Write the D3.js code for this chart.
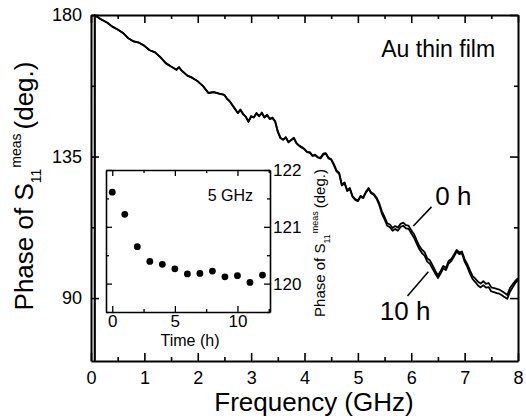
<!DOCTYPE html>
<html>
<head>
<meta charset="utf-8">
<script src="https://cdn.jsdelivr.net/npm/d3@7"></script>
<style>
  body { margin: 0; background: #fff; }
  text { font-family: "Liberation Sans", Arial, sans-serif; fill: #000; }
</style>
</head>
<body>
<script>
// main curve: frequency (GHz) vs phase (deg.) at 0 h and 10 h
const freq = [0.07, 0.07, 0.1, 0.2, 0.3, 0.4, 0.5, 0.6, 0.7, 0.8, 0.9, 1.0, 1.1, 1.2, 1.3, 1.4, 1.5, 1.6, 1.65, 1.7, 1.8, 1.9, 2.0, 2.1, 2.2, 2.3, 2.4, 2.5,
  2.55, 2.6, 2.65, 2.7, 2.75, 2.8, 2.85, 2.9, 2.95, 3.0,
  3.05, 3.1, 3.15, 3.2, 3.25, 3.3, 3.35, 3.4, 3.45, 3.5,
  3.55, 3.6, 3.65, 3.7, 3.75, 3.8, 3.85, 3.9, 3.95, 4.0,
  4.05, 4.1, 4.15, 4.2, 4.25, 4.3, 4.35, 4.4, 4.45, 4.5,
  4.55, 4.6, 4.65, 4.7, 4.75, 4.8, 4.85, 4.9, 4.95, 5.0,
  5.05, 5.1, 5.15, 5.2, 5.25, 5.3, 5.35, 5.4, 5.45, 5.5,
  5.55, 5.6, 5.65, 5.7, 5.75, 5.8, 5.85, 5.9, 5.95, 6.0,
  6.05, 6.1, 6.15, 6.2, 6.25, 6.3, 6.35, 6.4, 6.45, 6.5,
  6.55, 6.6, 6.65, 6.7, 6.75, 6.8, 6.85, 6.9, 6.95, 7.0,
  7.05, 7.1, 7.15, 7.2, 7.25, 7.3, 7.35, 7.4, 7.45, 7.5,
  7.55, 7.6, 7.65, 7.7, 7.75, 7.8, 7.85, 7.9, 7.95, 8.0]

const phase0h = [70, 180, 179.6, 178.5, 177.6, 176.3, 175.4, 174.3, 172.6, 171.6, 171.2, 170.2, 168.8, 168.1, 166.6, 164.7, 163.6, 162.6, 163.4, 162.3, 160.8, 160.0, 158.9, 157.4, 155.2, 155.5, 155.0, 154.6,
  153.4, 152.5, 151.4, 150.2, 148.8, 150.0, 148.6, 147.6, 146.0, 147.9,
  147.4, 148.9, 147.8, 149.0, 147.5, 148.3, 146.9, 147.4, 146.3, 143.0,
  141.0, 140.3, 141.2, 139.6, 140.2, 141.0, 139.3, 138.5, 138.0, 137.4,
  136.5, 136.4, 135.3, 135.6, 134.8, 134.6, 135.9, 136.1, 134.6, 134.2,
  132.6, 130.6, 129.8, 126.0, 126.8, 124.3, 125.0, 122.4, 121.5, 121.0,
  122.5, 122.0, 123.8, 125.0, 123.6, 123.1, 122.0, 120.2, 117.6, 115.8,
  113.8, 113.4, 112.3, 112.9, 112.4, 113.6, 114.0, 113.2, 113.0, 111.6,
  110.4, 108.4, 106.6, 105.4, 104.6, 102.6, 102.0, 100.4, 98.7, 97.2,
  98.6, 100.2, 99.6, 101.8, 102.4, 103.8, 105.3, 104.5, 104.8, 102.4,
  100.8, 98.8, 97.0, 96.2, 95.2, 94.6, 95.4, 94.5, 94.8, 93.4,
  93.2, 92.9, 92.7, 92.2, 91.6, 91.0, 93.2, 94.4, 95.5, 96.3]

const phase10h = [70, 180, 179.6, 178.5, 177.6, 176.3, 175.4, 174.3, 172.6, 171.6, 171.2, 170.2, 168.8, 168.1, 166.6, 164.7, 163.6, 162.6, 163.4, 162.3, 160.8, 160.0, 158.9, 157.4, 155.2, 155.5, 155.0, 154.6,
  153.3, 152.6, 151.2, 150.0, 148.9, 149.7, 148.4, 147.7, 146.2, 147.6,
  147.5, 148.6, 147.9, 148.7, 147.4, 148.1, 147.0, 147.2, 146.1, 142.8,
  140.8, 140.4, 141.0, 139.5, 140.3, 140.7, 139.2, 138.4, 137.8, 137.3,
  136.4, 136.2, 135.2, 135.4, 134.7, 134.4, 135.6, 135.9, 134.4, 134.0,
  132.3, 130.3, 129.5, 125.8, 126.5, 124.0, 124.7, 122.2, 121.2, 120.8,
  122.2, 121.8, 123.5, 124.7, 123.3, 122.8, 121.6, 119.6, 116.8, 115.0,
  113.0, 112.5, 111.4, 112.0, 111.4, 112.6, 113.0, 112.2, 112.0, 110.6,
  109.3, 107.4, 105.6, 104.3, 103.5, 101.6, 100.9, 99.3, 97.8, 96.4,
  97.8, 99.4, 98.9, 101.0, 101.8, 103.2, 104.8, 104.0, 104.2, 101.6,
  99.9, 97.8, 96.0, 95.1, 94.0, 93.4, 94.1, 93.3, 93.5, 92.1,
  91.9, 91.6, 91.4, 90.9, 90.3, 89.8, 92.0, 93.4, 94.8, 95.8]

// inset: phase at 5 GHz vs time
const timeH = [0, 1, 2, 3, 4, 5, 6, 7, 8, 9, 10, 11, 12]
const phase5GHz = [121.61, 121.22, 120.65, 120.39, 120.34, 120.26, 120.17, 120.18, 120.22, 120.12, 120.14, 120.02, 120.15]

const mainYTicks = [90, 135, 180]
const insetYTicks = [120, 121, 122]
const insetXTicks = [0, 5, 10]

const w = 526
const h = 420

const svg = d3.select('body')
  .append('svg')
  .attr('width', w)
  .attr('height', h)

const x = d3.scaleLinear().domain([0, 8]).range([91, 518])
const y = d3.scaleLinear().domain([70, 180]).range([361, 15])

const fmtInt = d => Number.isInteger(d) ? d : ''

// frame + ticks (all inward)
const xTickVals = d3.range(0, 8.01, 0.5)
const yTickVals = [90, 112.5, 135, 157.5, 180]

function styleAxis(g, major) {
  g.select('.domain').attr('stroke', '#000').attr('stroke-width', 2)
  g.selectAll('.tick line').attr('stroke', '#000').attr('stroke-width', 1.6)
  g.selectAll('.tick').filter(d => !major(d)).select('line')
    .each(function() {
      const l = d3.select(this)
      if (l.attr('x2')) l.attr('x2', +l.attr('x2') / 2)
      if (l.attr('y2')) l.attr('y2', +l.attr('y2') / 2)
    })
  g.selectAll('text').style('font-size', '18px')
}

const isMainX = d => Number.isInteger(d)
const isMainY = d => mainYTicks.includes(d)

svg.append('g')
  .attr('transform', `translate(0,${y(70)})`)
  .call(d3.axisBottom(x).tickValues(xTickVals).tickSize(-8).tickSizeOuter(0).tickPadding(10).tickFormat(fmtInt))
  .call(g => styleAxis(g, isMainX))

svg.append('g')
  .attr('transform', `translate(0,${y(180)})`)
  .call(d3.axisTop(x).tickValues(xTickVals).tickSize(-8).tickSizeOuter(0).tickFormat(''))
  .call(g => styleAxis(g, isMainX))

svg.append('g')
  .attr('transform', `translate(${x(0)},0)`)
  .call(d3.axisLeft(y).tickValues(yTickVals).tickSize(-8).tickSizeOuter(0).tickPadding(9)
    .tickFormat(d => isMainY(d) ? d : ''))
  .call(g => styleAxis(g, isMainY))

svg.append('g')
  .attr('transform', `translate(${x(8)},0)`)
  .call(d3.axisRight(y).tickValues(yTickVals).tickSize(-8).tickSizeOuter(0).tickFormat(''))
  .call(g => styleAxis(g, isMainY))

// curves
const line = d3.line()
  .x((d, i) => x(freq[i]))
  .y(d => y(d))

svg.append('path')
  .datum(phase10h)
  .attr('fill', 'none')
  .attr('stroke', '#000')
  .attr('stroke-width', 1.8)
  .attr('stroke-linejoin', 'round')
  .attr('d', line)

svg.append('path')
  .datum(phase0h)
  .attr('fill', 'none')
  .attr('stroke', '#000')
  .attr('stroke-width', 1.8)
  .attr('stroke-linejoin', 'round')
  .attr('d', line)

// labels inside main plot
svg.append('text')
  .attr('x', x(7.57)).attr('y', y(166.6))
  .attr('text-anchor', 'end')
  .style('font-size', '23px')
  .text('Au thin film')

svg.append('line')
  .attr('x1', x(6.38)).attr('y1', y(119.0))
  .attr('x2', x(6.04)).attr('y2', y(112.9))
  .attr('stroke', '#000').attr('stroke-width', 1.5)
svg.append('text')
  .attr('x', x(6.45)).attr('y', y(119.6))
  .style('font-size', '26px')
  .text('0 h')

svg.append('line')
  .attr('x1', x(6.32)).attr('y1', y(98.4))
  .attr('x2', x(5.93)).attr('y2', y(90.7))
  .attr('stroke', '#000').attr('stroke-width', 1.5)
svg.append('text')
  .attr('x', x(5.41)).attr('y', y(83.0))
  .style('font-size', '26px')
  .text('10 h')

// axis titles
svg.append('text')
  .attr('x', 314).attr('y', 411)
  .attr('text-anchor', 'middle')
  .style('font-size', '26px')
  .text('Frequency (GHz)')

const yTitle = svg.append('text')
  .attr('transform', 'translate(33,186) rotate(-90)')
  .attr('text-anchor', 'middle')
  .style('font-size', '26px')
yTitle.append('tspan').text('Phase of S')
yTitle.append('tspan').attr('dy', 8).style('font-size', '14px').text('11')
yTitle.append('tspan').attr('dy', -20).attr('dx', 1).style('font-size', '14px').text('meas')
yTitle.append('tspan').attr('dy', 12).attr('dx', 4).text('(deg.)')

// inset
const ix = d3.scaleLinear().domain([-0.5, 12.6]).range([106, 270])
const iy = d3.scaleLinear().domain([119.5, 122]).range([312, 170])

const inset = svg.append('g')

inset.append('rect')
  .attr('x', ix(-0.5)).attr('y', iy(122))
  .attr('width', ix(12.6) - ix(-0.5)).attr('height', iy(119.5) - iy(122))
  .attr('fill', '#fff')

const ixTickVals = [0, 2.5, 5, 7.5, 10, 12.5]
const iyTickVals = [119.5, 120, 120.5, 121, 121.5, 122]
const isInsetX = d => insetXTicks.includes(d)
const isInsetY = d => insetYTicks.includes(d)

function styleInset(g, major) {
  g.select('.domain').attr('stroke', '#000').attr('stroke-width', 1.6)
  g.selectAll('.tick line').attr('stroke', '#000').attr('stroke-width', 1.3)
  g.selectAll('.tick').filter(d => !major(d)).select('line')
    .each(function() {
      const l = d3.select(this)
      if (l.attr('x2')) l.attr('x2', +l.attr('x2') / 2)
      if (l.attr('y2')) l.attr('y2', +l.attr('y2') / 2)
    })
  g.selectAll('text').style('font-size', '17px')
}

inset.append('g')
  .attr('transform', `translate(0,${iy(119.5)})`)
  .call(d3.axisBottom(ix).tickValues(ixTickVals).tickSize(-6).tickSizeOuter(0).tickPadding(3)
    .tickFormat(d => isInsetX(d) ? d : ''))
  .call(g => styleInset(g, isInsetX))

inset.append('g')
  .attr('transform', `translate(0,${iy(122)})`)
  .call(d3.axisTop(ix).tickValues(ixTickVals).tickSize(-6).tickSizeOuter(0).tickFormat(''))
  .call(g => styleInset(g, isInsetX))

inset.append('g')
  .attr('transform', `translate(${ix(-0.5)},0)`)
  .call(d3.axisLeft(iy).tickValues(iyTickVals).tickSize(-6).tickSizeOuter(0).tickFormat(''))
  .call(g => styleInset(g, isInsetY))

inset.append('g')
  .attr('transform', `translate(${ix(12.6)},0)`)
  .call(d3.axisRight(iy).tickValues(iyTickVals).tickSize(-6).tickSizeOuter(0).tickPadding(3)
    .tickFormat(d => isInsetY(d) ? d : ''))
  .call(g => styleInset(g, isInsetY))

inset.selectAll('circle')
  .data(phase5GHz)
  .enter()
  .append('circle')
  .attr('cx', (d, i) => ix(timeH[i]))
  .attr('cy', d => iy(d))
  .attr('r', 3.4)
  .attr('fill', '#000')

inset.append('text')
  .attr('x', 253).attr('y', 201)
  .attr('text-anchor', 'end')
  .style('font-size', '16px')
  .text('5 GHz')

inset.append('text')
  .attr('x', 190).attr('y', 346)
  .attr('text-anchor', 'middle')
  .style('font-size', '16px')
  .text('Time (h)')

const iTitle = inset.append('text')
  .attr('transform', 'translate(325,243) rotate(-90)')
  .attr('text-anchor', 'middle')
  .style('font-size', '15px')
iTitle.append('tspan').text('Phase of S')
iTitle.append('tspan').attr('dy', 5).style('font-size', '9px').text('11')
iTitle.append('tspan').attr('dy', -12).attr('dx', 1).style('font-size', '9px').text('meas')
iTitle.append('tspan').attr('dy', 7).attr('dx', 3).text('(deg.)')
</script>
</body>
</html>
